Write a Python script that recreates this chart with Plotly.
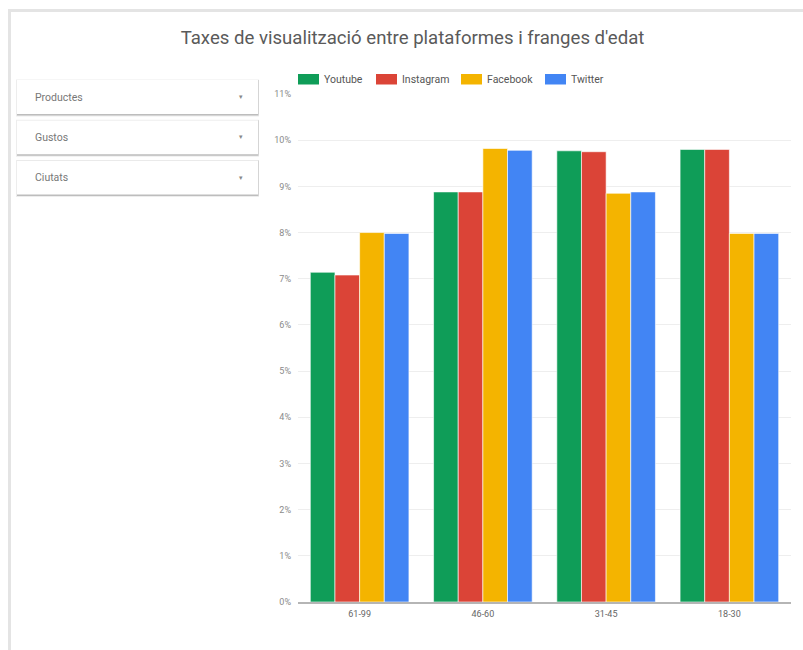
import plotly.graph_objects as go

# ---- data ----
categories = ["61-99", "46-60", "31-45", "18-30"]
series_names = ["Youtube", "Instagram", "Facebook", "Twitter"]
youtube = [7.14, 8.88, 9.77, 9.80]
instagram = [7.08, 8.88, 9.75, 9.80]
facebook = [8.00, 9.82, 8.85, 7.98]
twitter = [7.98, 9.78, 8.88, 7.98]
series_values = [youtube, instagram, facebook, twitter]
colors = ["#0f9d58", "#db4437", "#f4b400", "#4285f4"]
y_ticks = list(range(0, 12))
filter_labels = ["Productes", "Gustos", "Ciutats"]
title_text = "Taxes de visualització entre plataformes i franges d'edat"

W, H = 803, 650
L, R, T, B = 298, 791, 94, 602  # plot area in pixels


def px(x):
    return (x - L) / (R - L)


def py(y):
    return (B - y) / (B - T)


fig = go.Figure()
for name, vals, col in zip(series_names, series_values, colors):
    fig.add_trace(go.Bar(
        x=categories, y=vals, name=name,
        marker=dict(color=col, line=dict(color="rgba(255,255,255,0.6)", width=1)),
        showlegend=False,
    ))

shapes = []
annotations = []

# page frame (grey L-shaped border)
shapes.append(dict(type="rect", xref="paper", yref="paper",
                   x0=px(8), x1=px(W), y0=py(9), y1=py(12),
                   fillcolor="#e4e4e4", line=dict(width=0), layer="below"))
shapes.append(dict(type="rect", xref="paper", yref="paper",
                   x0=px(8), x1=px(11), y0=py(9), y1=py(H),
                   fillcolor="#e4e4e4", line=dict(width=0), layer="below"))

# filter cards
for i, lab in enumerate(filter_labels):
    y0 = 80 + i * 40.3
    y1 = y0 + 34
    shapes.append(dict(type="rect", xref="paper", yref="paper",
                       x0=px(16), x1=px(259), y0=py(y0 - 0.5), y1=py(y1 + 2.5),
                       fillcolor="rgba(0,0,0,0.07)", line=dict(width=0)))
    shapes.append(dict(type="rect", xref="paper", yref="paper",
                       x0=px(17), x1=px(258.5), y0=py(y0), y1=py(y1 + 1.5),
                       fillcolor="rgba(0,0,0,0.2)", line=dict(width=0)))
    shapes.append(dict(type="rect", xref="paper", yref="paper",
                       x0=px(17), x1=px(258), y0=py(y0), y1=py(y1),
                       fillcolor="white", line=dict(width=0)))
    annotations.append(dict(xref="paper", yref="paper", x=px(33), y=py((y0 + y1) / 2),
                            text=lab, showarrow=False, xanchor="left", yanchor="middle",
                            font=dict(size=10.5, color="#777777")))
    annotations.append(dict(xref="paper", yref="paper", x=px(241), y=py((y0 + y1) / 2),
                            text="▾", showarrow=False, xanchor="center", yanchor="middle",
                            font=dict(size=7, color="#888888")))

# legend (custom, Google-Charts style wide swatches)
legend_x = [298, 376, 461, 545]
for name, col, lx in zip(series_names, colors, legend_x):
    shapes.append(dict(type="rect", xref="paper", yref="paper",
                       x0=px(lx), x1=px(lx + 21), y0=py(74), y1=py(84.5),
                       fillcolor=col, line=dict(width=0)))
    annotations.append(dict(xref="paper", yref="paper", x=px(lx + 24), y=py(79.5),
                            text=name, showarrow=False, xanchor="left", yanchor="middle",
                            font=dict(size=10.5, color="#555555")))

fig.update_layout(
    width=W, height=H,
    margin=dict(l=L, r=W - R, t=T, b=H - B, pad=0),
    paper_bgcolor="white", plot_bgcolor="white",
    font=dict(family="Roboto, Arial, sans-serif", color="#444444"),
    title=dict(text=title_text, x=412.5 / W, xanchor="center", xref="container",
               y=1 - 37 / H, yanchor="middle", yref="container",
               font=dict(size=18.6, color="#5a5a5a", family="Roboto, Arial, sans-serif")),
    barmode="group", bargap=0.2, bargroupgap=0.0,
    shapes=shapes, annotations=annotations,
    showlegend=False,
)

fig.update_yaxes(range=[0, 11], tickvals=y_ticks, ticktext=[f"{v}%" for v in y_ticks],
                 showgrid=True, gridcolor="#eeeeee", gridwidth=1, zeroline=False,
                 tickfont=dict(size=9, color="#8a8a8a"), ticks="", ticklabelstandoff=6,
                 fixedrange=True)
fig.update_xaxes(showgrid=False, showline=True, linecolor="#b5b5b5", linewidth=1.5,
                 tickfont=dict(size=9, color="#666666"), ticks="", ticklabelstandoff=2)

fig.write_html("out.html")
